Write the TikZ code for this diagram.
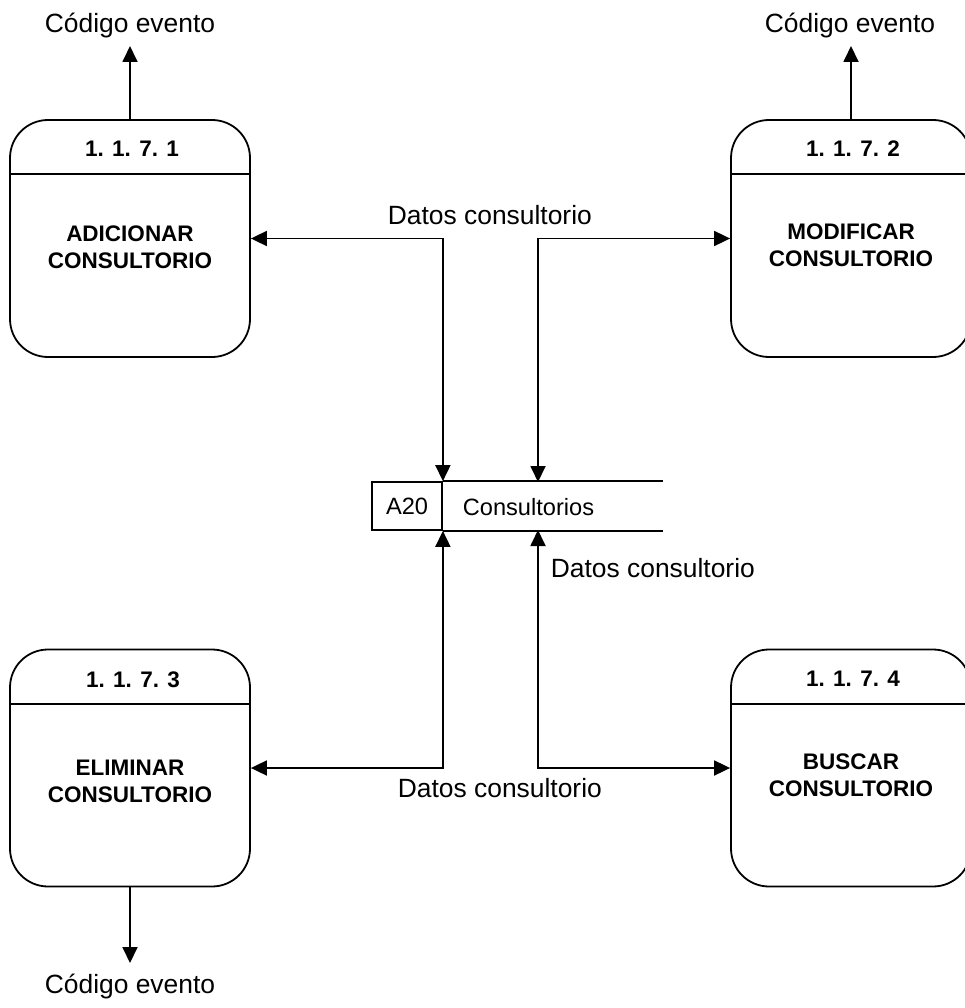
\documentclass[tikz,border=0pt]{standalone}
\usepackage{fontspec}
\setmainfont{Liberation Sans}
\usetikzlibrary{arrows.meta}

\begin{document}
\begin{tikzpicture}[x=1pt,y=-1pt,line width=1.8pt,
  proc/.style={draw,rectangle,rounded corners=38pt,minimum width=240pt,minimum height=237pt,inner sep=0pt},
  lbl/.style={font=\fontsize{26.4}{31}\selectfont,inner sep=0pt},
  small/.style={font=\fontsize{23.6}{28}\selectfont,inner sep=0pt},
  bold/.style={font=\fontsize{22.5}{27}\selectfont\bfseries,align=center,inner sep=0pt},
  tip/.style={-{Triangle[length=16pt,width=15pt]}},
  both/.style={{Triangle[length=16pt,width=15pt]}-{Triangle[length=16pt,width=15pt]}}]
\useasboundingbox (0,0) rectangle (964,1008);
% processes
\node[proc] (p1) at (130,238.5) {};
\node[proc] (p2) at (851,238.5) {};
\node[proc] (p3) at (130,768) {};
\node[proc] (p4) at (851,768) {};
\foreach \p in {p1,p2,p3,p4}
  \draw ([yshift=-55pt]\p.north west) -- ([yshift=-55pt]\p.north east);
%
\node[bold,anchor=base] (h1) at (132,157) {1. 1. 7. 1};
\node[bold,anchor=base] (h2) at (853,157) {1. 1. 7. 2};
\node[bold,anchor=base] (h3) at (133,687) {1. 1. 7. 3};
\node[bold,anchor=base] (h4) at (853,686) {1. 1. 7. 4};
%
\node[bold] (t1) at (130,247.5) {ADICIONAR\\CONSULTORIO};
\node[bold] (t2) at (851,245.5) {MODIFICAR\\CONSULTORIO};
\node[bold] (t3) at (130,781) {ELIMINAR\\CONSULTORIO};
\node[bold] (t4) at (851,775) {BUSCAR\\CONSULTORIO};
% data store
\node[small,draw,minimum width=70pt,minimum height=48pt] (a20) at (407,506) {A20};
\draw (a20.north east) -- ++(220,0);
\draw (a20.south east) -- ++(220,0);
\node[small,anchor=base west] (cons) at (462,515) {Consultorios};
\coordinate (s1) at (a20.north east);
\coordinate (s2) at (538,482);
\coordinate (s3) at (a20.south east);
\coordinate (s4) at (538,530);
% flows
\draw[both] (p1.east) -| (s1);
\draw[both] (p2.west) -| (s2);
\draw[both] (p3.east) -| (s3);
\draw[both] (p4.west) -| (s4);
\node[lbl,anchor=base west] (d1) at (387,225) {Datos consultorio};
\node[lbl,anchor=base west] (d2) at (550,577) {Datos consultorio};
\node[lbl,anchor=base west] (d3) at (397,797) {Datos consultorio};
%
\coordinate (c1) at (130,46);
\coordinate (c2) at (851,46);
\coordinate (c3) at (130,963);
\draw[tip] (p1.north) -- (c1);
\draw[tip] (p2.north) -- (c2);
\draw[tip] (p3.south) -- (c3);
\node[lbl,anchor=base] (e1) at (130,33) {Código evento};
\node[lbl,anchor=base] (e2) at (850,33) {Código evento};
\node[lbl,anchor=base] (e3) at (130,993) {Código evento};
\end{tikzpicture}
\end{document}
